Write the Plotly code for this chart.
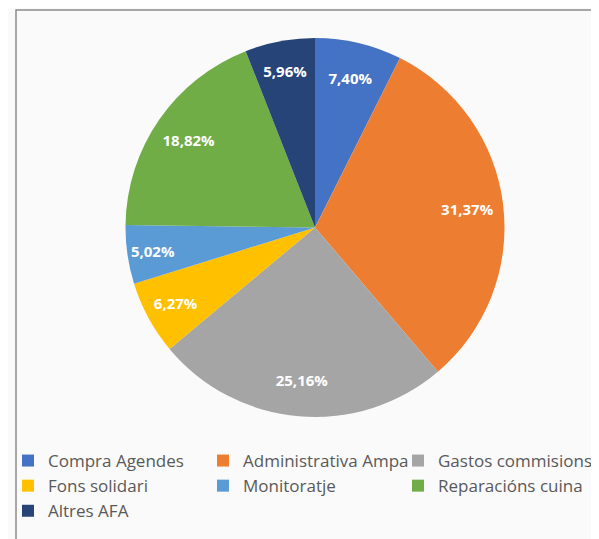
import plotly.graph_objects as go

categories = ["Compra Agendes", "Administrativa Ampa", "Gastos commisions",
              "Fons solidari", "Monitoratje", "Reparacións cuina", "Altres AFA"]
values = [7.40, 31.37, 25.16, 6.27, 5.02, 18.82, 5.96]
colors = ["#4472C4", "#ED7D31", "#A5A5A5", "#FFC000", "#5B9BD5", "#70AD47", "#264478"]

W, H = 599, 539
OFF = 8  # page body margin
dom = dict(x=[(125 - OFF) / W, (505 - OFF) / W], y=[1 - (417 - OFF) / H, 1 - (38 - OFF) / H])

fig = go.Figure()
fig.add_trace(go.Pie(
    labels=categories,
    values=values,
    sort=False,
    direction="clockwise",
    rotation=0,
    marker=dict(colors=colors, line=dict(width=0)),
    textinfo="none",
    domain=dom,
    hoverinfo="label+percent",
))
# transparent ring carrying the labels further out in each slice
fig.add_trace(go.Pie(
    labels=categories,
    values=values,
    sort=False,
    direction="clockwise",
    rotation=0,
    hole=0.62,
    marker=dict(colors=["rgba(0,0,0,0)"] * len(values), line=dict(width=0)),
    texttemplate="%{percent:.2%}",
    textposition="inside",
    insidetextorientation="horizontal",
    textfont=dict(family="Open Sans", size=15, color="white", weight="bold"),
    domain=dom,
    showlegend=False,
    hoverinfo="skip",
))

fig.update_layout(
    width=W, height=H,
    margin=dict(l=0, r=0, t=0, b=0),
    paper_bgcolor="#fafafa",
    plot_bgcolor="#fafafa",
    separators=",.",
    showlegend=True,
    legend=dict(
        orientation="h",
        x=0, y=1 - 435 / H,
        xanchor="left", yanchor="top",
        entrywidth=150, entrywidthmode="pixels",
        font=dict(family="Open Sans", size=17, color="#595959"),
        bgcolor="rgba(0,0,0,0)",
        itemwidth=30,
    ),
    shapes=[dict(type="rect", xref="paper", yref="paper",
                 x0=(16 - OFF) / W, x1=1.05, y0=-0.05, y1=1 - (10 - OFF) / H,
                 line=dict(color="#8c8c8c", width=1.5), layer="below")],
)

fig.write_html("out.html")
